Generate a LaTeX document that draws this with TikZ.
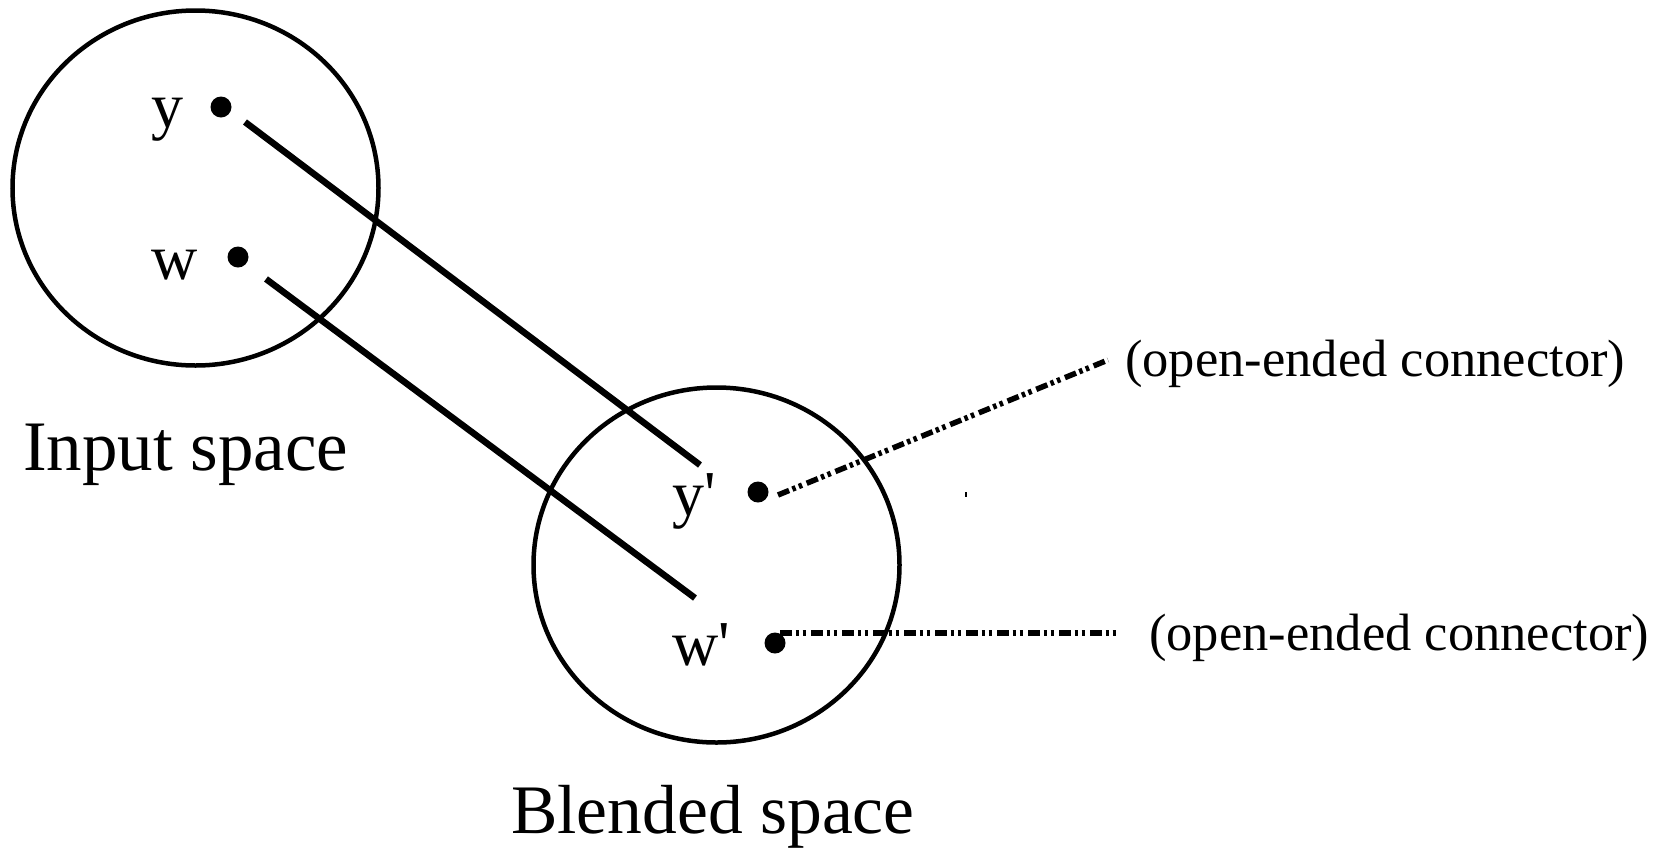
\documentclass[tikz,border=0pt]{standalone}
\usepackage{fontspec}
\setmainfont{Liberation Serif}
\begin{document}
\begin{tikzpicture}[x=1pt,y=-1pt,
  spaceline/.style={line width=4.5pt},
  dotmark/.style={fill=black,circle,inner sep=0pt,minimum size=21pt},
  link/.style={line width=6.5pt},
  openlink/.style={line width=5.5pt,dash pattern=on 12pt off 3.5pt on 3.5pt off 3.5pt on 3.5pt off 5pt},
  lbl/.style={inner sep=0pt,anchor=base west,font=\fontsize{64}{70}\selectfont},
  biglbl/.style={inner sep=0pt,anchor=base west,font=\fontsize{71}{78}\selectfont},
  blendlbl/.style={inner sep=0pt,anchor=base west,font=\fontsize{69.5}{78}\selectfont},
  smalllbl/.style={inner sep=0pt,anchor=base west,font=\fontsize{52.5}{60}\selectfont}]
\useasboundingbox (0,0) rectangle (1657,847);
% spaces
\draw[spaceline] (195.5,188) ellipse [x radius=183, y radius=177.5];
\draw[spaceline] (716.5,565) ellipse [x radius=183, y radius=177.5];
% dots
\node[dotmark] (y) at (221,107) {};
\node[dotmark] (w) at (238,257) {};
\node[dotmark] (yp) at (758,492) {};
\node[dotmark] (wp) at (775,643) {};
% labels
\node[lbl] (ylab) at (151,127) {y};
\node[lbl] (wlab) at (151,279) {w};
\node[lbl] (yplab) at (672,515) {y\textquotesingle};
\node[lbl] (wplab) at (672,665) {w\textquotesingle};
\node[biglbl] (input) at (23,470) {Input space};
\node[blendlbl] (blended) at (511,833) {Blended space};
\node[smalllbl] (oc1) at (1125,376) {(open-ended connector)};
\node[smalllbl] (oc2) at (1149,650) {(open-ended connector)};
% connector end points
\coordinate (l1a) at (245,122);
\coordinate (l1b) at (700,465);
\coordinate (l2a) at (266,279);
\coordinate (l2b) at (695,598);
\coordinate (o1a) at (778,495);
\coordinate (o1b) at (1108,360);
\coordinate (o2a) at (780,633);
\coordinate (o2b) at (1120,633);
\draw[link] (l1a) -- (l1b);
\draw[link] (l2a) -- (l2b);
\draw[openlink] (o1a) -- (o1b);
\draw[openlink] (o2a) -- (o2b);
% small speck
\fill (965,492) rectangle (967,497);
\end{tikzpicture}
\end{document}
